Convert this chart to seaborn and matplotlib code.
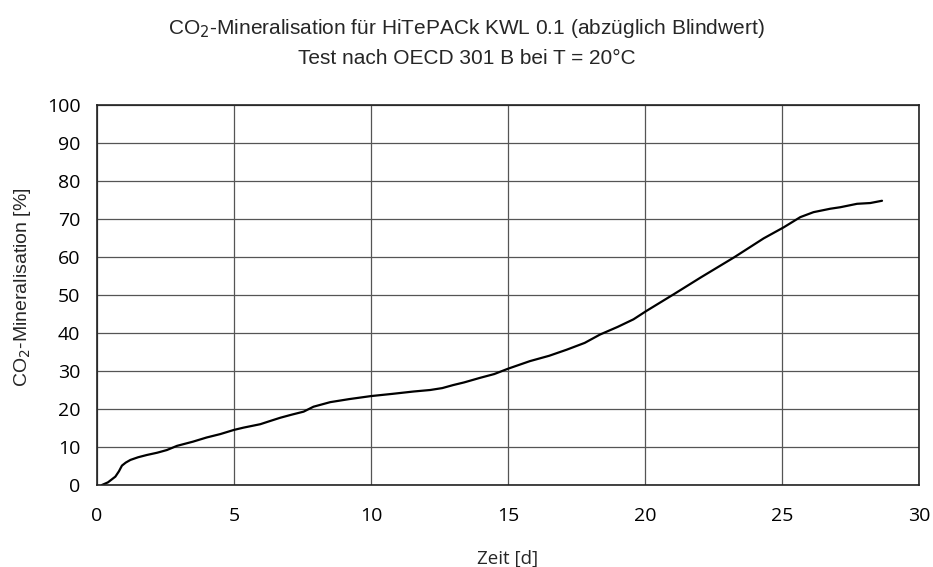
import matplotlib
matplotlib.use("Agg")
import matplotlib.pyplot as plt
import seaborn as sns
import pandas as pd

days = [0.18, 0.4, 0.67, 0.8, 0.91, 1.05, 1.22, 1.5, 1.82, 2.2, 2.55, 2.92, 3.5, 4.0, 4.5, 5.0, 5.35, 5.96,
        6.3, 6.69, 7.1, 7.54, 7.9, 8.51, 9.2, 10.0, 10.8, 11.55, 12.16, 12.6, 13.0, 13.4, 13.98, 14.5,
        15.0, 15.8, 16.5, 17.14, 17.8, 18.36, 19.0, 19.58, 20.05, 21.05, 22.03, 23.25, 24.33, 25.06,
        25.67, 26.15, 26.76, 27.13, 27.74, 28.22, 28.65]
mineral = [0.0, 0.7, 2.2, 3.6, 5.1, 5.9, 6.6, 7.3, 7.9, 8.5, 9.2, 10.3, 11.4, 12.5, 13.4, 14.5, 15.1, 16.0,
           16.8, 17.7, 18.5, 19.3, 20.6, 21.8, 22.6, 23.4, 24.0, 24.6, 25.0, 25.5, 26.3, 27.0, 28.2, 29.2,
           30.6, 32.6, 34.0, 35.6, 37.4, 39.6, 41.6, 43.6, 45.8, 50.2, 54.6, 59.9, 64.9, 67.8,
           70.5, 71.8, 72.7, 73.1, 74.0, 74.2, 74.8]

x_ticks = [0, 5, 10, 15, 20, 25, 30]
y_ticks = [0, 10, 20, 30, 40, 50, 60, 70, 80, 90, 100]

df = pd.DataFrame({"Zeit": days, "Mineralisation": mineral})

sns.set_style("white")
plt.rcParams["font.family"] = ["Open Sans", "DejaVu Sans"]

fig = plt.figure(figsize=(9.33, 5.67), dpi=100)
ax = fig.add_axes([97/933, 1-485/567, (919-97)/933, (485-105)/567])

sns.lineplot(data=df, x="Zeit", y="Mineralisation", ax=ax, color="black", linewidth=1.6, estimator=None, sort=False)

ax.set_xlim(0, 30)
ax.set_ylim(0, 100)
ax.set_xticks(x_ticks)
ax.set_yticks(y_ticks)
ax.grid(True, color="#555555", linewidth=0.9)
ax.set_axisbelow(True)
for s in ax.spines.values():
    s.set_color("#222222")
    s.set_linewidth(1.2)
ax.tick_params(axis="x", direction="inout", length=12, width=1.2, labelsize=14, pad=10, colors="#222222", labelcolor="black")
ax.tick_params(axis="y", direction="out", length=6, width=1.2, labelsize=14, pad=6, colors="#222222", labelcolor="black")

ax.set_xlabel("Zeit [d]", fontsize=13.5, labelpad=18)
ax.set_ylabel("CO$_2$-Mineralisation [%]", fontsize=14,
              family=["Liberation Sans", "DejaVu Sans"])
ax.yaxis.set_label_coords(-0.078, 0.52)

fig.text(0.5, 1-28/567, "CO$_2$-Mineralisation für HiTePACk KWL 0.1 (abzüglich Blindwert)",
         ha="center", va="center", fontsize=15, family=["Liberation Sans", "DejaVu Sans"])
fig.text(0.5, 1-58/567, "Test nach OECD 301 B bei T = 20°C",
         ha="center", va="center", fontsize=15, family=["Liberation Sans", "DejaVu Sans"])

fig.savefig("out.png", dpi=100)
